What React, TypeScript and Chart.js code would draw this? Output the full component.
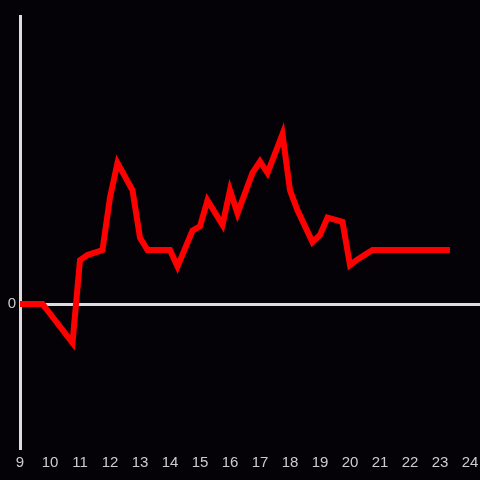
import React, { useEffect, useRef } from "react";
import { Chart, registerables } from "chart.js";

Chart.register(...registerables);

const hours: number[] = [9, 9.75, 10.75, 11, 11.25, 11.75, 12, 12.25, 12.75, 13, 13.25, 14, 14.25, 14.75, 15, 15.25, 15.75, 16, 16.25, 16.75, 17, 17.25, 17.75, 18, 18.25, 18.75, 19, 19.25, 19.75, 20, 20.25, 20.75, 23.33];
const values: number[] = [0, 0, -0.27, 0.305, 0.34, 0.375, 0.74, 0.98, 0.79, 0.46, 0.375, 0.375, 0.26, 0.51, 0.54, 0.72, 0.55, 0.79, 0.63, 0.91, 0.99, 0.91, 1.18, 0.79, 0.65, 0.43, 0.48, 0.6, 0.57, 0.27, 0.31, 0.375, 0.375];
const xTicks: number[] = [9, 10, 11, 12, 13, 14, 15, 16, 17, 18, 19, 20, 21, 22, 23, 24];
const yTicks: number[] = [0];

const BG = "#040206";
const AXIS = "#dddddd";
const LABEL = "#cccccc";
const FONT = { family: "'Liberation Sans', Arial, sans-serif", size: 15 };

export default function App() {
  const ref = useRef<HTMLCanvasElement | null>(null);
  useEffect(() => {
    document.body.style.margin = "0";
    document.body.style.background = BG;
    const canvas = ref.current!;
    const bgPlugin = {
      id: "bg",
      beforeDraw(chart: any) {
        const c = chart.ctx;
        c.save();
        c.fillStyle = BG;
        c.fillRect(0, 0, chart.width, chart.height);
        c.restore();
      },
    };
    const chart = new Chart(canvas, {
      type: "line",
      data: {
        datasets: [
          {
            data: hours.map((h, i) => ({ x: h, y: values[i] })),
            borderColor: "#ff0000",
            borderWidth: 6,
            pointRadius: 0,
            tension: 0,
            fill: false,
            borderJoinStyle: "miter",
          },
        ],
      },
      options: {
        responsive: false,
        animation: false,
        layout: { padding: { top: 16, left: 0, right: 0, bottom: 0 } },
        plugins: { legend: { display: false }, tooltip: { enabled: false } },
        scales: {
          x: {
            type: "linear",
            min: 9,
            max: 24.333,
            afterBuildTicks: (axis: any) => {
              axis.ticks = xTicks.map((v) => ({ value: v }));
            },
            afterFit: (scale: any) => {
              scale.height = 32;
              scale.paddingLeft = 0;
              scale.paddingRight = 0;
            },
            grid: { display: false, drawTicks: false },
            border: { display: false },
            ticks: {
              color: LABEL,
              padding: 6,
              maxRotation: 0,
              autoSkip: false,
              font: FONT,
              callback: (v: any) => String(v),
            },
          },
          y: {
            type: "linear",
            min: -1,
            max: 2,
            afterBuildTicks: (axis: any) => {
              axis.ticks = yTicks.map((v) => ({ value: v }));
            },
            afterFit: (scale: any) => {
              scale.width = 20;
              scale.paddingTop = 0;
              scale.paddingBottom = 0;
            },
            grid: {
              drawTicks: false,
              lineWidth: 3,
              color: (ctx: any) => (ctx.tick && ctx.tick.value === 0 ? AXIS : "transparent"),
            },
            border: { display: true, color: AXIS, width: 3 },
            ticks: {
              color: LABEL,
              padding: 4,
              font: FONT,
              callback: (v: any) => String(v),
            },
          },
        },
      },
      plugins: [bgPlugin],
    } as any);
    return () => chart.destroy();
  }, []);
  return (
    <div style={{ position: "fixed", left: 0, top: 0, width: 480, height: 480, background: BG }}>
      <canvas ref={ref} width={480} height={480} style={{ display: "block" }} />
    </div>
  );
}
